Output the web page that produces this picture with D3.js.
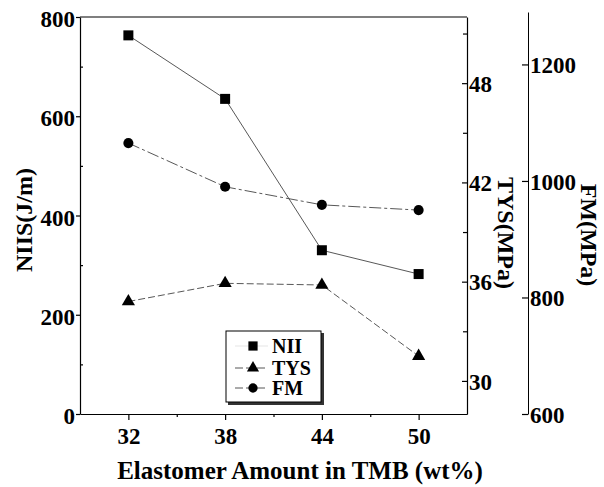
<!DOCTYPE html>
<html>
<head>
<meta charset="utf-8">
<script src="https://cdn.jsdelivr.net/npm/d3@7"></script>
<style>
  body { margin: 0; background: #fff; }
  text { font-family: "Liberation Serif", "DejaVu Serif", serif; font-weight: bold; }
</style>
</head>
<body>
<div id="chart"></div>
<script>
// data
var amounts = [32, 38, 44, 50];
var nii = [763, 635, 330, 282];      // J/m, left axis
var tys = [34.8, 35.9, 35.8, 31.5];  // MPa, first right axis
var fm = [1065, 990, 959, 950];      // MPa, second right axis

var xTicks = [32, 38, 44, 50];
var xMinor = [35, 41, 47];
var niiTicks = [0, 200, 400, 600, 800];
var niiMinor = [100, 300, 500, 700];
var tysTicks = [30, 36, 42, 48];
var tysMinor = [33, 39, 45, 51];
var fmTicks = [600, 800, 1000, 1200];

var W = 604, H = 487;
var plotL = 80, plotR = 467, plotT = 17, plotB = 414;
var fmX = 528;

var svg = d3.select("#chart").append("svg")
    .attr("width", W)
    .attr("height", H);

var x = d3.scaleLinear().domain([29, 53]).range([plotL, plotR]);
var yN = d3.scaleLinear().domain([0, 800]).range([plotB, plotT]);
var yT = d3.scaleLinear().domain([28, 52]).range([plotB, plotT]);
var yF = d3.scaleLinear().domain([600, 1290]).range([plotB, 12]);

var fmt = d3.format("d");

function styleAxis(g, size) {
  g.attr("font-family", null).attr("font-size", null);
  g.selectAll("path, line").attr("stroke", "#000").attr("stroke-width", 1.2);
  g.selectAll("text").style("font-size", size + "px").attr("fill", "#000");
}

// bottom axis
var gx = svg.append("g")
    .attr("transform", "translate(0," + plotB + ")")
    .call(d3.axisBottom(x).tickValues(xTicks).tickFormat(fmt).tickSize(6).tickSizeOuter(0).tickPadding(6));
styleAxis(gx, 23);
gx.selectAll("text").attr("dy", "0.8em");
svg.append("g")
    .attr("transform", "translate(0," + plotB + ")")
    .call(d3.axisBottom(x).tickValues(xMinor).tickSize(3).tickFormat(""))
    .call(function(g){ g.select(".domain").remove(); styleAxis(g, 10); });

// top frame line
svg.append("line")
    .attr("x1", plotL).attr("x2", plotR)
    .attr("y1", plotT).attr("y2", plotT)
    .attr("stroke", "#000").attr("stroke-width", 1.2);

// left axis
var gl = svg.append("g")
    .attr("transform", "translate(" + plotL + ",0)")
    .call(d3.axisLeft(yN).tickValues(niiTicks).tickFormat(fmt).tickSize(4).tickSizeOuter(0).tickPadding(1));
styleAxis(gl, 23);
gl.selectAll("text").attr("dy", "0.42em");
svg.append("g")
    .attr("transform", "translate(" + plotL + ",0)")
    .call(d3.axisLeft(yN).tickValues(niiMinor).tickSize(-3).tickFormat(""))
    .call(function(g){ g.select(".domain").remove(); styleAxis(g, 10); });

// TYS axis
var gt = svg.append("g")
    .attr("transform", "translate(" + plotR + ",0)")
    .call(d3.axisRight(yT).tickValues(tysTicks).tickFormat(fmt).tickSize(-5).tickSizeOuter(0).tickPadding(2));
styleAxis(gt, 23);
gt.selectAll("text").attr("dy", "0.36em");
svg.append("g")
    .attr("transform", "translate(" + plotR + ",0)")
    .call(d3.axisRight(yT).tickValues(tysMinor).tickSize(-4).tickFormat(""))
    .call(function(g){ g.select(".domain").remove(); styleAxis(g, 10); });

// FM axis
var gf = svg.append("g")
    .attr("transform", "translate(" + fmX + ",0)")
    .call(d3.axisRight(yF).tickValues(fmTicks).tickFormat(fmt).tickSize(-6).tickSizeOuter(0).tickPadding(2));
styleAxis(gf, 23);
gf.select(".domain").attr("stroke-width", 1);
gf.selectAll("text").attr("dy", "0.36em");

// axis titles
svg.append("text")
    .attr("x", 300).attr("y", 479)
    .attr("text-anchor", "middle")
    .style("font-size", "25px")
    .text("Elastomer Amount in TMB (wt%)");
svg.append("text")
    .attr("transform", "translate(32,220) rotate(-90)")
    .attr("text-anchor", "middle")
    .style("font-size", "24px")
    .text("NIIS(J/m)");
svg.append("text")
    .attr("transform", "translate(498,233) rotate(90)")
    .attr("text-anchor", "middle")
    .style("font-size", "24px")
    .text("TYS(MPa)");
svg.append("text")
    .attr("transform", "translate(581,235) rotate(90)")
    .attr("text-anchor", "middle")
    .style("font-size", "24px")
    .text("FM(MPa)");

// series
var series = [
  {name: "NII", values: nii, y: yN, symbol: d3.symbolSquare, size: 100, dash: null},
  {name: "TYS", values: tys, y: yT, symbol: d3.symbolTriangle, size: 75, dash: "7,3"},
  {name: "FM", values: fm, y: yF, symbol: d3.symbolCircle, size: 80, dash: "12,3,3,3"}
];

series.forEach(function(s) {
  var line = d3.line()
      .x(function(d, i){ return x(amounts[i]); })
      .y(function(d){ return s.y(d); });
  svg.append("path")
      .datum(s.values)
      .attr("d", line)
      .attr("fill", "none")
      .attr("stroke", "#444")
      .attr("stroke-width", 0.9)
      .attr("stroke-dasharray", s.dash);
  svg.append("g").selectAll("path")
      .data(s.values)
      .enter()
      .append("path")
      .attr("d", d3.symbol().type(s.symbol).size(s.size))
      .attr("transform", function(d, i){ return "translate(" + x(amounts[i]) + "," + s.y(d) + ")"; })
      .attr("fill", "#000");
});

// legend
var lg = svg.append("g");
lg.append("rect")
    .attr("x", 228).attr("y", 333).attr("width", 96).attr("height", 72)
    .attr("fill", "#333");
lg.append("rect")
    .attr("x", 226).attr("y", 331).attr("width", 95).attr("height", 71)
    .attr("fill", "#fff").attr("stroke", "#000").attr("stroke-width", 1);
var legY = [346, 368, 388];
series.forEach(function(s, i) {
  lg.append("line")
      .attr("x1", 235).attr("x2", 268)
      .attr("y1", legY[i]).attr("y2", legY[i])
      .attr("stroke", "#444")
      .attr("stroke-width", 0.9)
      .attr("stroke-opacity", s.dash ? 1 : 0.15)
      .attr("stroke-dasharray", s.dash ? "8,3" : null);
  lg.append("path")
      .attr("d", d3.symbol().type(s.symbol).size(s.size * 0.85))
      .attr("transform", "translate(253," + legY[i] + ")")
      .attr("fill", "#000");
  lg.append("text")
      .attr("x", 272).attr("y", legY[i])
      .attr("dy", "0.35em")
      .style("font-size", "20px")
      .text(s.name);
});
</script>
</body>
</html>
